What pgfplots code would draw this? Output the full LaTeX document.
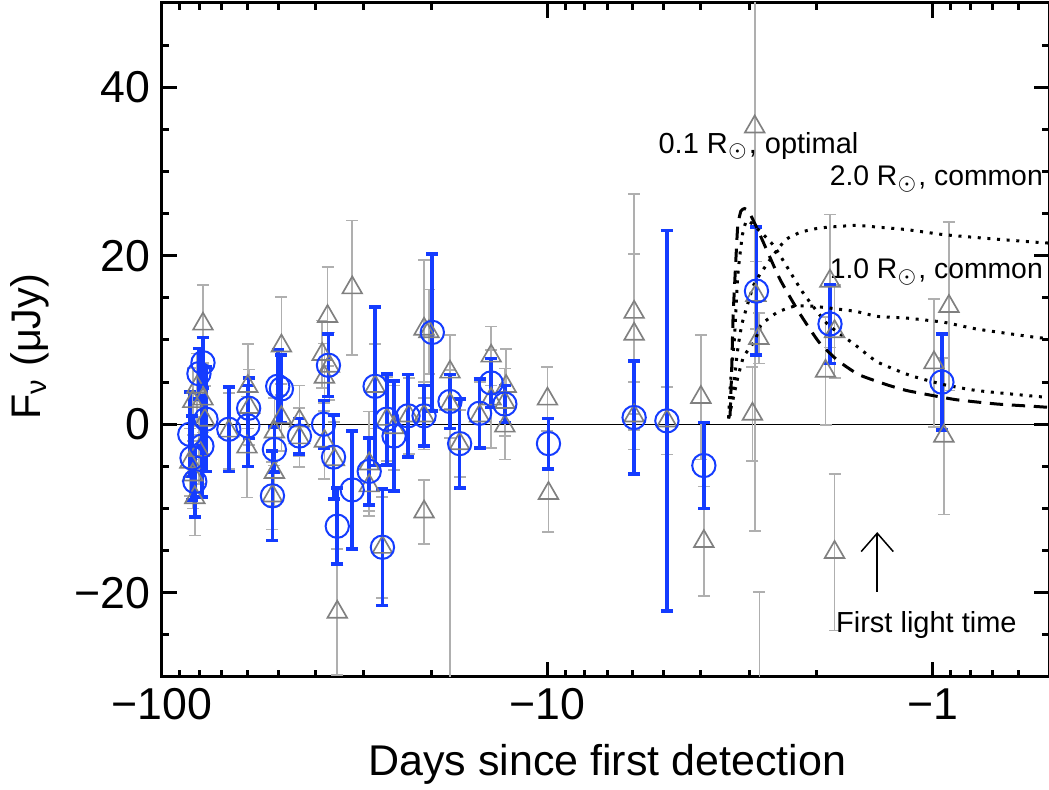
\documentclass[border=0pt]{standalone}
\usepackage{fontspec}
\setmainfont{Liberation Sans}
\usepackage{pgfplots}
\pgfplotsset{compat=1.18}
\usetikzlibrary{arrows.meta}
\definecolor{myblue}{RGB}{20,60,255}
\definecolor{tri}{RGB}{128,128,128}
\definecolor{trierr}{RGB}{175,175,175}

% Days since first detection are stored as their magnitude (days before detection)
\pgfplotstableread{
x y e
84.7 -1.2 5.0
83.6 -4.0 5.0
82.2 -6.8 4.2
80.2 6.0 3.0
78.3 7.3 3.0
76.9 0.6 6.2
78.8 -2.6 6.0
67.1 -0.6 5.0
59.6 1.9 3.6
59.9 -0.2 4.8
50.1 4.5 4.3
49.0 4.2 4.0
51.1 -3.0 2.7
51.7 -8.5 5.3
44.0 -1.4 2.1
37.0 7.0 3.7
38.1 0.0 2.8
35.9 -3.9 5.0
35.1 -12.1 4.5
32.1 -7.8 7.0
28.0 4.5 9.4
29.0 -5.6 4.0
26.8 -14.6 6.9
26.1 0.6 5.4
25.0 -1.4 6.5
23.0 1.0 4.9
20.9 1.0 3.6
19.9 10.9 9.3
17.9 2.7 3.2
16.9 -2.3 5.3
15.0 1.3 4.1
14.0 4.9 2.9
12.9 2.4 2.2
9.94 -2.3 3.0
5.96 0.8 6.7
4.90 0.4 22.6
3.93 -4.9 5.1
2.87 15.8 7.6
1.85 11.9 4.7
0.948 5.0 5.7
}\bluedata

\pgfplotstableread{
x y e
78.3 11.9 4.6
83.2 2.7 4.0
81.2 4.4 4.0
78.3 3.0 4.0
80.2 -3.1 4.0
83.2 -6.0 4.0
82.2 -8.7 4.5
77.4 0.5 4.0
84.7 -4.5 4.0
67.1 -0.8 4.5
59.9 4.5 5.0
59.3 2.0 4.5
60.2 -2.7 6.0
49.0 9.3 5.8
51.1 -0.9 4.0
51.1 -5.7 4.0
51.7 -8.5 4.0
49.0 0.8 4.0
44.0 0.4 4.2
44.0 -1.6 3.5
37.2 12.8 5.9
38.4 8.3 4.0
37.9 5.6 4.0
36.8 6.9 4.0
37.9 -2.0 4.5
35.7 -4.2 4.5
35.1 -22.3 7.5
32.1 16.2 8.0
28.0 4.5 5.0
29.0 -4.7 6.2
29.0 -7.3 3.0
26.8 -14.6 6.0
26.1 0.6 5.0
25.0 -0.4 5.0
22.9 1.0 4.5
20.9 11.3 8.2
20.3 11.0 5.0
20.9 -10.4 3.8
20.9 1.0 4.0
17.9 6.2 4.4
17.9 2.4 4.0
17.9 -45 44.4
16.9 -2.3 4.0
15.0 1.0 4.0
14.0 8.1 3.5
14.0 3.0 5.8
12.8 4.5 4.4
12.9 2.6 4.0
12.9 -0.2 4.0
10.0 3.0 3.8
9.94 -8.2 4.6
5.96 13.3 14.0
5.96 10.7 9.5
5.96 1.0 4.0
4.90 0.4 4.0
4.00 3.2 7.4
3.93 -13.9 6.5
2.90 35.3 48
2.88 15.3 4.0
2.83 10.2 3.0
2.94 1.2 5.6
2.82 -40 20.1
1.85 17.0 7.9
1.80 11.0 5.5
1.90 6.3 6.4
1.80 -15.2 9.3
0.909 14.0 10.0
0.994 7.3 7.6
0.937 -1.4 9.3
}\graydata

\begin{document}
\begin{tikzpicture}
\begin{axis}[
  scale only axis, width=266.1pt, height=202.2pt,
  xmode=log, x dir=reverse, xmin=0.5, xmax=100,
  ymin=-30, ymax=50,
  xtick={1,10,100}, xticklabels={−1,−10,−100},
  minor xtick={0.5,0.6,0.7,0.8,0.9,2,3,4,5,6,7,8,9,20,30,40,50,60,70,80,90},
  ytick={-20,0,20,40}, yticklabels={−20,0,20,40},
  minor ytick={-25,-15,-10,-5,5,10,15,25,30,35,45},
  axis line style={line width=0.9pt},
  major tick length=4.5pt, minor tick length=2.2pt,
  every tick/.style={black, line width=0.9pt},
  tick label style={font=\fontsize{13.4}{14}\selectfont},
  xlabel={Days since first detection},
  ylabel={F\textsubscript{ν} (μJy)},
  every axis x label/.style={at={(axis description cs:0.502,-0.13)}, anchor=center,
     font=\fontsize{12.9}{14}\selectfont},
  every axis y label/.style={at={(axis description cs:-0.149,0.49)}, rotate=90, anchor=center,
     font=\fontsize{12.4}{14}\selectfont},
]
\addplot[black, line width=0.4pt] coordinates {(0.5,0) (100,0)};

\addplot[only marks, mark=triangle, mark size=3.4pt, color=tri,
  mark options={line width=0.5pt, fill=none},
  error bars/.cd, y dir=both, y explicit,
  error bar style={line width=0.5pt, color=trierr},
  error mark options={rotate=90, line width=0.5pt, mark size=1.8pt, color=trierr}]
  table[x=x, y=y, y error=e] {\graydata};

\addplot[only marks, mark=o, mark size=3.5pt, color=myblue,
  mark options={line width=0.6pt},
  error bars/.cd, y dir=both, y explicit,
  error bar style={line width=1.1pt, color=myblue},
  error mark options={rotate=90, line width=1.1pt, mark size=1.8pt, color=myblue}]
  table[x=x, y=y, y error=e] {\bluedata};

% 0.1 Rsun optimal (dashed)
\addplot[black, line width=0.9pt, dash pattern=on 4pt off 2.6pt, smooth, tension=0.3] coordinates {
(3.36,1.0) (3.33,6.0) (3.30,12.8) (3.25,19.0) (3.21,23.5) (3.15,25.3) (3.08,25.6) (3.00,25.2)
(2.83,22.8) (2.50,17.3) (2.22,13.2) (1.98,9.8) (1.77,7.6) (1.56,5.9) (1.32,4.7) (1.17,4.0)
(1.00,3.4) (0.867,2.9) (0.683,2.4) (0.539,2.1) (0.50,2.0)};
% 2.0 Rsun common (dotted)
\addplot[black, line width=0.9pt, dash pattern=on 0.9pt off 2pt, smooth, tension=0.3] coordinates {
(3.39,0.7) (3.30,4.0) (3.21,8.9) (3.13,11.9) (3.00,14.8) (2.90,16.8) (2.64,19.6) (2.41,21.9)
(2.20,22.8) (1.96,23.3) (1.59,23.6) (1.395,23.4) (1.17,23.1) (0.937,22.5) (0.70,22.0)
(0.539,21.6) (0.50,21.5)};
% 1.0 Rsun common (dotted)
\addplot[black, line width=0.9pt, dash pattern=on 0.9pt off 2pt, smooth, tension=0.3] coordinates {
(3.39,0.7) (3.30,3.0) (3.21,5.5) (3.10,8.0) (2.90,9.9) (2.80,11.7) (2.73,12.2) (2.53,13.3)
(2.29,14.0) (2.04,14.0) (1.59,13.4) (1.395,12.8) (1.17,12.6) (0.937,12.1) (0.77,11.3)
(0.539,10.3) (0.50,10.2)};
% steep dotted model
\addplot[black, line width=0.9pt, dash pattern=on 0.9pt off 2pt, smooth, tension=0.3] coordinates {
(3.39,0.7) (3.35,5.0) (3.27,10.5) (3.21,17.6) (3.12,22.5) (3.04,24.2) (2.90,23.5) (2.58,21.1)
(2.18,15.7) (1.88,11.9) (1.59,9.4) (1.395,7.4) (1.147,5.8) (0.937,4.7) (0.77,4.0)
(0.539,3.3) (0.50,3.2)};

\node[anchor=west, inner sep=0pt, font=\fontsize{8.7}{9}\selectfont] at (axis cs:5.17,33.0) {0.1 R$_\odot$, optimal};
\node[anchor=west, inner sep=0pt, font=\fontsize{8.5}{9}\selectfont] at (axis cs:1.86,29.1) {2.0 R$_\odot$, common};
\node[anchor=west, inner sep=0pt, font=\fontsize{8.5}{9}\selectfont] at (axis cs:1.86,18.1) {1.0 R$_\odot$, common};
\node[anchor=west, inner sep=0pt, font=\fontsize{8.7}{9}\selectfont] at (axis cs:1.79,-23.8) {First light time};
\draw[line width=0.45pt, -{Straight Barb[length=5.5pt,width=9.6pt]}] (axis cs:1.395,-19.9) -- (axis cs:1.395,-12.8);
\end{axis}
\pgfresetboundingbox
\path[use as bounding box] (-48.6pt,-33.9pt) rectangle (266.1pt,203.1pt);
\end{tikzpicture}
\end{document}
